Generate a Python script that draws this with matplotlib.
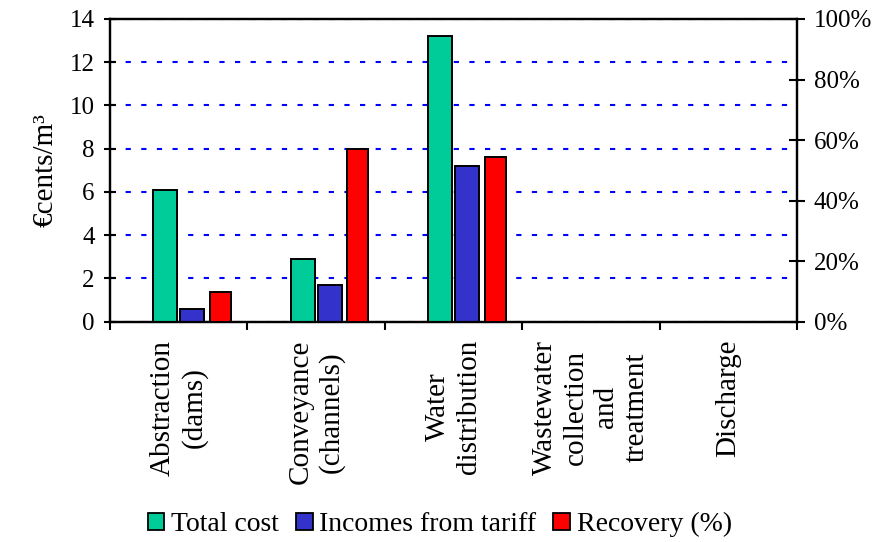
import numpy as np
import matplotlib
matplotlib.use("Agg")
import matplotlib.pyplot as plt
from matplotlib.ticker import FixedLocator, FuncFormatter
from matplotlib.patches import Patch

plt.rcParams['font.family'] = ['Liberation Serif', 'DejaVu Serif']

stages = ["Abstraction\n(dams)", "Conveyance\n(channels)", "Water\ndistribution",
          "Wastewater\ncollection\nand\ntreatment", "Discharge"]
total_cost = [6.1, 2.9, 13.2, np.nan, np.nan]      # €cents/m3
tariff_income = [0.6, 1.7, 7.2, np.nan, np.nan]    # €cents/m3
recovery_pct = [9.8, 57.0, 54.5, np.nan, np.nan]   # %

green = "#00CC99"
blue = "#3333CC"
red = "#FF0000"

fig = plt.figure(figsize=(8.85, 5.42), dpi=100)
ax = fig.add_axes([0.1243, 0.4065, 0.7763, 0.5585])
ax2 = ax.twinx()

x = np.arange(len(stages))
w = 0.175
ax.bar(x - 0.097, total_cost, w, color=green, edgecolor="black", linewidth=1.4, zorder=3)
ax.bar(x + 0.100, tariff_income, w, color=blue, edgecolor="black", linewidth=1.4, zorder=3)
ax2.bar(x + 0.303, recovery_pct, 0.152, color=red, edgecolor="black", linewidth=1.4, zorder=3)

ax.set_xlim(-0.5, len(stages) - 0.5)
ax.set_ylim(0, 14)
ax2.set_ylim(0, 100)

# dashed blue grid on the cost scale
ax.set_yticks(np.arange(0, 15, 2))
ax.set_axisbelow(True)
ax.yaxis.grid(True, color="#0000FF", linewidth=1.5, linestyle=(0, (2.5, 5)))

ax2.set_yticks(np.arange(0, 101, 20))
ax2.yaxis.set_major_formatter(FuncFormatter(lambda v, p: f"{v:.0f}%"))

# category boundaries as ticks, names in between
ax.xaxis.set_major_locator(FixedLocator(np.arange(-0.5, len(stages), 1.0)))
ax.xaxis.set_major_formatter(FuncFormatter(lambda v, p: ""))
ax.xaxis.set_minor_locator(FixedLocator(x))
ax.set_xticklabels(stages, minor=True, rotation=90, ha="center", va="top",
                   multialignment="center", fontsize=21, linespacing=1.22)
ax.tick_params(axis="x", which="major", direction="out", length=6, width=1.5)
ax.tick_params(axis="x", which="minor", length=0, pad=13)

ax.tick_params(axis="y", direction="inout", length=8, width=1.5, labelsize=18, pad=7)
ax2.tick_params(axis="y", direction="inout", length=12, width=1.5, labelsize=18, pad=6)

for a in (ax, ax2):
    for s in a.spines.values():
        s.set_linewidth(1.6)

ax.set_ylabel("€cents/m³", fontsize=21, labelpad=8)

handles = [Patch(facecolor=green, edgecolor="black", linewidth=1.3),
           Patch(facecolor=blue, edgecolor="black", linewidth=1.3),
           Patch(facecolor=red, edgecolor="black", linewidth=1.3)]
fig.legend(handles, ["Total cost", "Incomes from tariff", "Recovery (%)"],
           loc="center", bbox_to_anchor=(0.497, 0.032), ncol=3, frameon=False,
           fontsize=20, handlelength=0.6, handleheight=0.6, handletextpad=0.25,
           columnspacing=0.6, borderaxespad=0)

fig.savefig("out.png", dpi=100)
